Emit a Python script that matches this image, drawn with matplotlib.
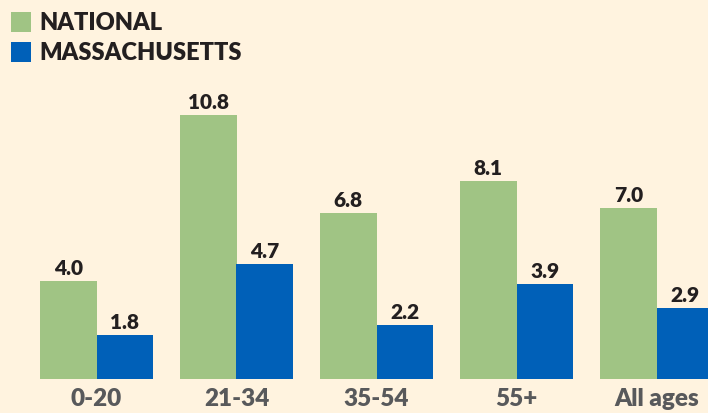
import matplotlib
matplotlib.use("Agg")
import matplotlib.pyplot as plt
from matplotlib.patches import Rectangle
import numpy as np

categories = ["0-20", "21-34", "35-54", "55+", "All ages"]
national = [4.0, 10.8, 6.8, 8.1, 7.0]
massachusetts = [1.8, 4.7, 2.2, 3.9, 2.9]
series_names = ["NATIONAL", "MASSACHUSETTS"]

BG = "#FFF3DF"
GREEN = "#A0C484"
BLUE = "#0060B8"
DARK = "#231F20"
GRAY = "#58595B"
FONT = "Lato"
WEIGHT = "heavy"

W, H = 708, 414
fig = plt.figure(figsize=(W / 100, H / 100), dpi=100, facecolor=BG)

bottom_px = 380
px_per_unit = 24.4
ax = fig.add_axes([0, (H - bottom_px) / H, 1, bottom_px / H])
ax.set_facecolor(BG)
ax.set_ylim(0, bottom_px / px_per_unit)
spacing = 140.0
center0 = 96.5
ax.set_xlim(-center0 / spacing, (W - center0) / spacing)
bw = 56.5 / spacing

x = np.arange(len(categories))
b1 = ax.bar(x - bw / 2, national, width=bw, color=GREEN, linewidth=0)
b2 = ax.bar(x + bw / 2, massachusetts, width=bw, color=BLUE, linewidth=0)

for bars, vals in ((b1, national), (b2, massachusetts)):
    for r, v in zip(bars, vals):
        ax.annotate(f"{v:.1f}", (r.get_x() + r.get_width() / 2, v),
                    xytext=(0, 4), textcoords="offset pixels",
                    ha="center", va="bottom", fontsize=15,
                    fontweight=WEIGHT, color=DARK, family=FONT)

ax.set_xticks(x)
ax.set_xticklabels(categories, fontsize=17.5, fontweight=WEIGHT, color=GRAY, family=FONT)
ax.tick_params(axis="x", length=0, pad=6)
ax.set_yticks([])
for s in ax.spines.values():
    s.set_visible(False)

# Legend (manual)
for i, (name, col) in enumerate(zip(series_names, [GREEN, BLUE])):
    y_top = 13.3 + i * 30
    fig.patches.append(Rectangle((11 / W, 1 - (y_top + 19.5) / H), 20 / W, 19.5 / H,
                                 transform=fig.transFigure, color=col, linewidth=0))
    fig.text(39 / W, 1 - (y_top + 9.5) / H, name, ha="left", va="center",
             fontsize=17, fontweight=WEIGHT, color=DARK, family=FONT)

fig.savefig("out.png", dpi=100, facecolor=BG)
